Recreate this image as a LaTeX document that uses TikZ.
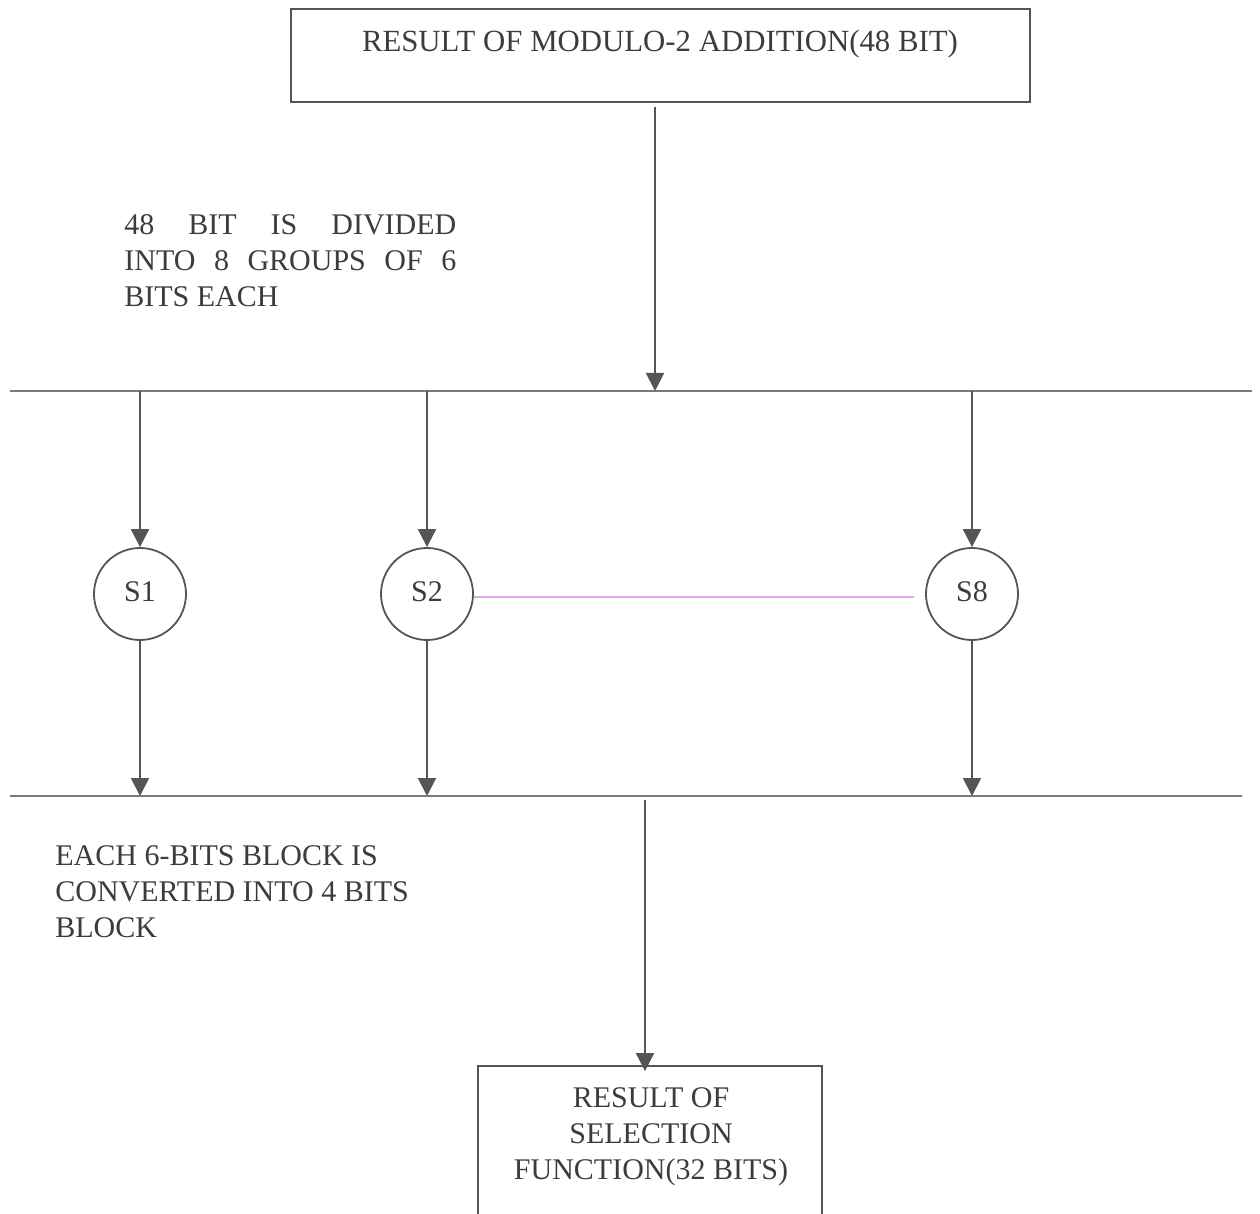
\documentclass[tikz,border=0pt]{standalone}
\usepackage{fontspec}
\setmainfont{Liberation Serif}
\usetikzlibrary{arrows.meta}
\definecolor{ln}{HTML}{555555}
\definecolor{bus}{HTML}{7A7A7A}
\definecolor{txt}{HTML}{3C3C3C}
\definecolor{pinkline}{HTML}{E4A6E8}
\begin{document}
\begin{tikzpicture}[x=0.5pt,y=-0.5pt,
  every node/.style={text=txt,font=\fontsize{15pt}{18pt}\selectfont},
  boxstyle/.style={draw=ln,line width=0.9pt,rectangle,inner sep=0pt},
  sbox/.style={draw=ln,line width=0.9pt,circle,minimum size=46pt,inner sep=0pt},
  arr/.style={draw=ln,line width=1pt,-{Triangle[length=9pt,width=9pt]}},
  busline/.style={draw=bus,line width=0.9pt}]
\useasboundingbox (0,0) rectangle (1260,1214);
% top box
\node[boxstyle,minimum width=369.5pt,minimum height=46.5pt] (topbox) at (660.5,55.5) {};
\node[anchor=base,inner sep=0pt,font=\fontsize{15.4pt}{18pt}\selectfont] (toptext) at (660,52) {RESULT OF MODULO-2 ADDITION(48 BIT)};
% buses
\coordinate (b1L) at (10,391);
\coordinate (b1R) at (1252,391);
\coordinate (b2L) at (10,796);
\coordinate (b2R) at (1242,796);
\draw[busline] (b1L) -- (b1R);
\draw[busline] (b2L) -- (b2R);
\coordinate (topstart) at (655,107);
\draw[arr] (topstart) -- (topstart |- b1L);
% explanatory texts
\node[anchor=base west,inner sep=0pt] (txt1) at (124,235)
  {\parbox[t]{166pt}{48 BIT IS DIVIDED\linebreak INTO 8 GROUPS OF 6\linebreak BITS EACH}};
\node[anchor=base west,inner sep=0pt] (txt2) at (55,865)
  {\parbox[t]{220pt}{\raggedright EACH 6-BITS BLOCK IS\\ CONVERTED INTO 4 BITS\\ BLOCK}};
% S boxes
\node[sbox] (S1) at (140,594) {\raisebox{2pt}{S1}};
\node[sbox] (S2) at (427,594) {\raisebox{2pt}{S2}};
\node[sbox] (S8) at (972,594) {\raisebox{2pt}{S8}};
\foreach \s in {S1,S2,S8}{
  \draw[arr] (\s |- b1L) -- (\s.north);
  \draw[arr] (\s.south) -- (\s |- b2L);
}
\coordinate (pinkend) at (914,597);
\draw[pinkline,line width=0.6pt] (S2.east |- pinkend) -- (pinkend);
% bottom box
\node[boxstyle,minimum width=172pt,minimum height=82pt] (botbox) at (650,1148) {};
\node[anchor=base,inner sep=0pt] (bottext) at (651,1107)
  {\parbox[t]{172pt}{\centering RESULT OF\\ SELECTION\\ FUNCTION(32 BITS)}};
\coordinate (botstart) at (645,800);
\draw[arr] (botstart) -- ([yshift=-3pt]botstart |- botbox.north);
\end{tikzpicture}
\end{document}
